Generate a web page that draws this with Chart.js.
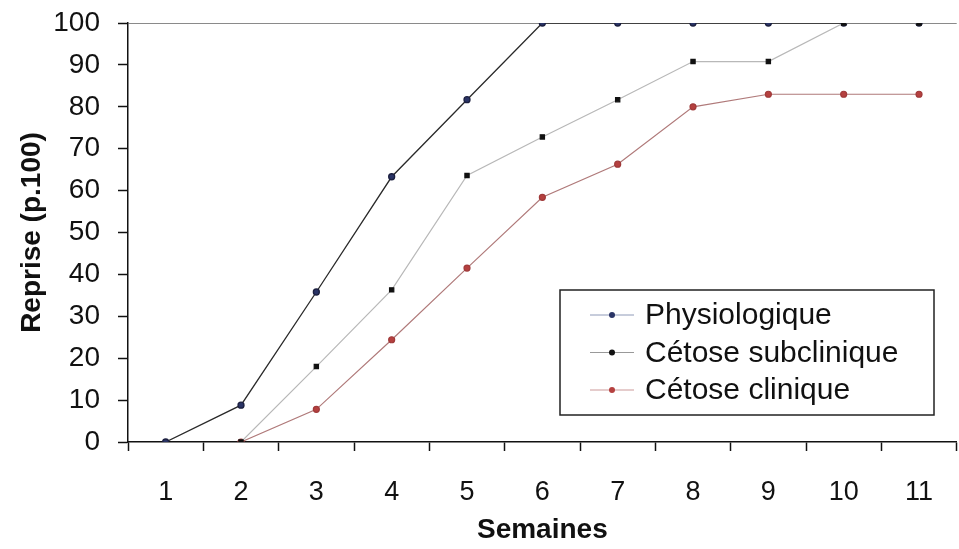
<!DOCTYPE html>
<html>
<head>
<meta charset="utf-8">
<script src="https://cdn.jsdelivr.net/npm/chart.js@4/dist/chart.umd.min.js"></script>
<style>
  html, body { margin: 0; padding: 0; background: #fff; overflow: hidden; }
  #wrap { width: 962px; height: 549px; position: relative; }
</style>
</head>
<body>
<div id="wrap"><canvas id="chart"></canvas></div>
<script>
// weeks after treatment
const semaines = ['1', '2', '3', '4', '5', '6', '7', '8', '9', '10', '11'];

// reprise (p.100) per group
const physiologique = [0, 8.8, 35.8, 63.3, 81.7, 100, 100, 100, 100, 100, 100];
const subclinique = [null, 0, 18, 36.3, 63.6, 72.8, 81.7, 90.8, 90.8, 100, 100];
const clinique = [null, 0, 7.8, 24.4, 41.5, 58.4, 66.3, 80, 83, 83, 83];

const seriesNames = ['Physiologique', 'Cétose subclinique', 'Cétose clinique'];

const font = '"Liberation Sans", Arial, sans-serif';

// legend drawn inside the plot, lower right
const insideLegend = {
  id: 'insideLegend',
  afterDraw(chart) {
    const ctx = chart.ctx;
    const x0 = 560, y0 = 290, w = 374, h = 125;
    ctx.save();
    ctx.fillStyle = '#fff';
    ctx.fillRect(x0, y0, w, h);
    ctx.strokeStyle = '#222';
    ctx.lineWidth = 1.5;
    ctx.strokeRect(x0, y0, w, h);
    ctx.font = '30px ' + font;
    ctx.textBaseline = 'middle';
    chart.data.datasets.forEach((ds, i) => {
      const y = 315 + i * 37.5;
      ctx.strokeStyle = ds.legendLine;
      ctx.lineWidth = 1;
      ctx.beginPath();
      ctx.moveTo(590, y);
      ctx.lineTo(634, y);
      ctx.stroke();
      ctx.fillStyle = ds.pointBackgroundColor;
      ctx.beginPath();
      ctx.arc(612, y, 3, 0, Math.PI * 2);
      ctx.fill();
      ctx.fillStyle = '#111';
      ctx.fillText(ds.label, 645, y + 1);
    });
    ctx.restore();
  }
};

new Chart(document.getElementById('chart'), {
  type: 'line',
  data: {
    labels: semaines,
    datasets: [
      {
        label: seriesNames[0],
        data: physiologique,
        borderColor: '#2a2a2a',
        legendLine: '#8f9ab8',
        borderWidth: 1.3,
        pointBackgroundColor: '#2a3466',
        pointBorderColor: '#1c2040',
        pointRadius: 3,
        order: 3
      },
      {
        label: seriesNames[1],
        data: subclinique,
        borderColor: '#b8b8b8',
        legendLine: '#999',
        borderWidth: 1.2,
        pointStyle: 'rect',
        pointBackgroundColor: '#111',
        pointBorderColor: '#111',
        pointRadius: 3,
        order: 1
      },
      {
        label: seriesNames[2],
        data: clinique,
        borderColor: '#b07a7a',
        legendLine: '#c99',
        borderWidth: 1.2,
        pointBackgroundColor: '#b5403f',
        pointBorderColor: '#a03a3a',
        pointRadius: 3,
        order: 2
      }
    ]
  },
  options: {
    responsive: true,
    maintainAspectRatio: false,
    animation: false,
    spanGaps: false,
    layout: { padding: { top: 23, right: 0, left: 0, bottom: 0 } },
    plugins: {
      legend: { display: false },
      tooltip: { enabled: false }
    },
    scales: {
      x: {
        offset: true,
        grid: {
          offset: true,
          drawOnChartArea: false,
          tickLength: 9,
          tickColor: '#111',
          tickWidth: 1.5
        },
        border: { color: '#111', width: 1.5 },
        ticks: {
          color: '#111',
          padding: 25,
          maxRotation: 0,
          font: { family: font, size: 27 }
        },
        title: {
          display: true,
          text: 'Semaines',
          color: '#111',
          padding: { top: 4, bottom: 2 },
          font: { family: font, size: 28, weight: 'bold' }
        },
        afterFit(scale) { scale.height = 107; }
      },
      y: {
        min: 0,
        max: 100,
        ticks: {
          stepSize: 10,
          color: '#111',
          padding: 18,
          font: { family: font, size: 28 }
        },
        grid: {
          tickLength: 10,
          tickColor: '#111',
          tickWidth: 1.5,
          color: (c) => c.tick && c.tick.value === 100 ? '#8a8a8a' : 'rgba(0,0,0,0)'
        },
        border: { color: '#111', width: 1.5 },
        title: {
          display: true,
          text: 'Reprise (p.100)',
          color: '#111',
          padding: { top: 15, bottom: 4 },
          font: { family: font, size: 28, weight: 'bold' }
        },
        afterFit(scale) {
          scale.width = 128;
          scale.paddingTop = 0;
          scale.paddingBottom = 0;
        }
      }
    }
  },
  plugins: [insideLegend]
});
</script>
</body>
</html>
